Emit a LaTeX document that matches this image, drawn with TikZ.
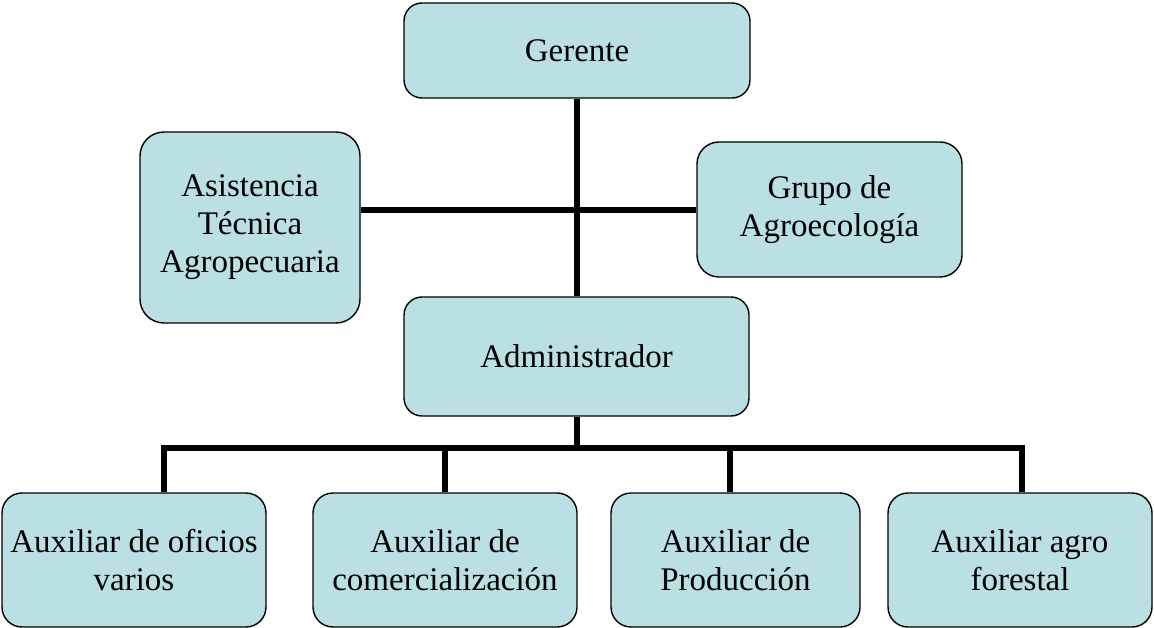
\documentclass[tikz,border=0pt]{standalone}
\usepackage{fontspec}
\setmainfont{Liberation Serif}
\usetikzlibrary{calc}
\definecolor{boxfill}{RGB}{187,224,228}
\tikzset{
  orgbox/.style={draw=black, line width=1.4pt, fill=boxfill, rounded corners=18pt,
    align=center, inner sep=0pt, font=\fontsize{33}{38}\selectfont},
  conn/.style={draw=black, line width=6pt}
}
\begin{document}
\begin{tikzpicture}[x=1pt,y=-1pt]
\useasboundingbox (0,0) rectangle (1154,628);
\node[orgbox, minimum width=346pt, minimum height=95pt] (ger) at (577,50.5) {Gerente};
\node[orgbox, minimum width=220pt, minimum height=191pt, rounded corners=24pt] (asis) at (250,227.5) {Asistencia\\Técnica\\Agropecuaria};
\node[orgbox, minimum width=265pt, minimum height=135pt, rounded corners=22pt] (grupo) at (829.5,209.5) {Grupo de\\Agroecología};
\node[orgbox, minimum width=345pt, minimum height=119pt] (adm) at (576.5,356.5) {Administrador};
\node[orgbox, minimum width=264pt, minimum height=134pt, rounded corners=20pt] (b1) at (134,560) {Auxiliar de oficios\\varios};
\node[orgbox, minimum width=264pt, minimum height=134pt, rounded corners=20pt] (b2) at (445,560) {Auxiliar de\\comercialización};
\node[orgbox, minimum width=249pt, minimum height=134pt, rounded corners=20pt] (b3) at (735.5,560) {Auxiliar de\\Producción};
\node[orgbox, minimum width=264pt, minimum height=134pt, rounded corners=20pt] (b4) at (1020,560) {Auxiliar agro\\forestal};
\coordinate (hy) at (0,210);
\coordinate (bus) at (0,448);
\coordinate (d1) at ($(b1.north)+(30,0)$);
\coordinate (d3) at ($(b3.north)+(-5.5,0)$);
\coordinate (d4) at ($(b4.north)+(2,0)$);
% connectors
\draw[conn] (asis.east |- hy) -- (grupo.west |- hy);
\draw[conn] (ger.south) -- (ger.south |- adm.north);
\draw[conn] (ger.south |- adm.south) -- (ger.south |- bus);
\draw[conn, line join=miter] (d1) -- (d1 |- bus) -- (d4 |- bus) -- (d4);
\draw[conn] (b2.north) -- (b2.north |- bus);
\draw[conn] (d3) -- (d3 |- bus);
\end{tikzpicture}
\end{document}
